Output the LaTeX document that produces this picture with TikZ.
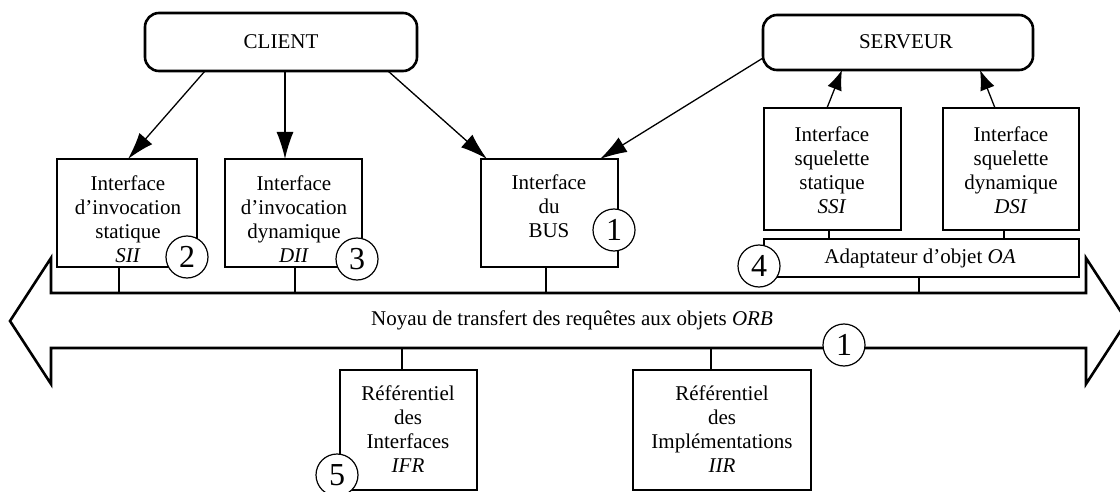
\documentclass[tikz,border=0pt]{standalone}
\usepackage{fontspec}
\setmainfont{Liberation Serif}
\usetikzlibrary{arrows.meta}
\begin{document}
\begin{tikzpicture}[x=1pt,y=-1pt,
  box/.style={draw,line width=2.6pt,inner sep=0pt,outer sep=0pt},
  rbox/.style={box,rounded corners=14pt},
  txt/.style={align=center,inner sep=0pt,font=\fontsize{21}{24}\selectfont},
  num/.style={circle,draw,line width=1.2pt,fill=white,minimum size=42pt,inner sep=0pt,font=\fontsize{32}{32}\selectfont},
  arrbig/.style={line width=1.3pt,-{Latex[length=27pt,width=17pt]}},
  arrsmall/.style={line width=1.3pt,-{Latex[length=20pt,width=15pt]}},
  conn/.style={line width=2.6pt},
  bus/.style={line width=2.6pt,line join=miter},
]
\useasboundingbox (0,0) rectangle (1120,492);

% ORB double arrow
\draw[bus] (10,321) -- (51,258) -- (51,293) -- (1086,293) -- (1086,258) -- (1127,321)
  -- (1086,384) -- (1086,348) -- (51,348) -- (51,384) -- cycle;
\node[txt] (orbt) at (572,320) {Noyau de transfert des requêtes aux objets \textit{ORB}};

% top boxes
\node[rbox,txt,minimum width=272pt,minimum height=58pt] (client) at (281,42) {CLIENT};
\node[rbox,minimum width=270pt,minimum height=55pt] (serveur) at (898,42.5) {};
\node[txt] (serveurt) at (906,42) {SERVEUR};

% client side interfaces
\node[box,minimum width=140pt,minimum height=108pt] (sii) at (127,213) {};
\node[txt] (siit) at (128,219) {Interface\\d’invocation\\statique\\\textit{SII}};
\node[box,minimum width=137pt,minimum height=108pt] (dii) at (293.5,213) {};
\node[txt] (diit) at (294,219) {Interface\\d’invocation\\dynamique\\\textit{DII}};
\node[box,minimum width=137pt,minimum height=108pt] (bus) at (549.5,213) {};
\node[txt] (bust) at (549,206) {Interface\\du\\BUS};

% server side
\node[box,minimum width=137pt,minimum height=122pt] (ssi) at (832.5,169) {};
\node[txt] (ssit) at (832,170) {Interface\\squelette\\statique\\\textit{SSI}};
\node[box,minimum width=136pt,minimum height=122pt] (dsi) at (1011,169) {};
\node[txt] (dsit) at (1011,170) {Interface\\squelette\\dynamique\\\textit{DSI}};
\node[box,minimum width=315pt,minimum height=38pt] (oa) at (921.5,258) {};
\node[txt] (oat) at (920,258) {Adaptateur d’objet \textit{OA}};

% repositories
\node[box,minimum width=137pt,minimum height=120pt] (ifr) at (408.5,430) {};
\node[txt] (ifrt) at (408,429) {Référentiel\\des\\Interfaces\\\textit{IFR}};
\node[box,minimum width=178pt,minimum height=120pt] (iir) at (722,430) {};
\node[txt] (iirt) at (722,429) {Référentiel\\des\\Implémentations\\\textit{IIR}};

% arrows
\draw[arrbig] ([xshift=60pt]client.south west) -- ([xshift=71pt]sii.north west);
\draw[arrbig] ([xshift=140pt]client.south west) -- ([xshift=60pt]dii.north west);
\draw[arrbig] ([xshift=243pt]client.south west) -- ([xshift=6pt]bus.north west);
\draw[arrbig] ([yshift=12pt]serveur.south west) -- ([xshift=-18pt]bus.north east);
\draw[arrsmall] ([xshift=63pt]ssi.north west) -- ([xshift=79pt]serveur.south west);
\draw[arrsmall] ([xshift=52pt]dsi.north west) -- ([xshift=217pt]serveur.south west);

% connectors to the bus
\coordinate (u1) at (119,293);
\coordinate (u2) at (295,293);
\coordinate (u3) at (546,293);
\coordinate (u4) at (919,293);
\coordinate (l1) at (402,348);
\coordinate (l2) at (711,348);
\coordinate (o1) at ([xshift=65pt]oa.north west);
\coordinate (o2) at ([xshift=240pt]oa.north west);
\draw[conn] (sii.south -| u1) -- (u1);
\draw[conn] (dii.south -| u2) -- (u2);
\draw[conn] (bus.south -| u3) -- (u3);
\draw[conn] (oa.south -| u4) -- (u4);
\draw[conn] (l1) -- (ifr.north -| l1);
\draw[conn] (l2) -- (iir.north -| l2);
\draw[conn] (ssi.south -| o1) -- (o1);
\draw[conn] (dsi.south -| o2) -- (o2);

% numbered circles
\node[num] (n1a) at (614,230) {1};
\node[num] (n2) at (187,257) {2};
\node[num] (n3) at (357,259) {3};
\node[num] (n4) at (759,266) {4};
\node[num] (n5) at (337,475) {5};
\node[num] (n1b) at (844,345) {1};
\end{tikzpicture}
\end{document}
